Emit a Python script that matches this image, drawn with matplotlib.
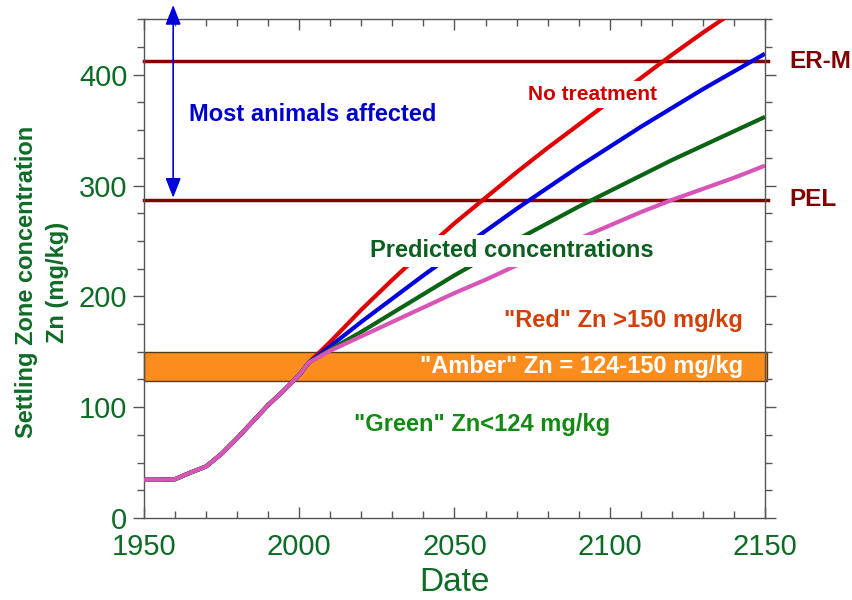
import matplotlib
matplotlib.use("Agg")
import matplotlib.pyplot as plt
from matplotlib.ticker import MultipleLocator

plt.rcParams['font.family'] = ['Liberation Sans', 'DejaVu Sans']

# shared history (all scenarios identical up to ~2003)
hist_years = [1950, 1955, 1960, 1965, 1970, 1975, 1980, 1985, 1990, 1995, 2000, 2003]
hist_zn = [34.5, 34.5, 35, 41, 46.5, 58, 72, 87, 102, 115, 129, 140]

# predicted concentrations
fut_years = [2003, 2010, 2020, 2030, 2040, 2050, 2060, 2070, 2080, 2090, 2100,
             2110, 2120, 2130, 2140, 2150]
no_treatment = [140, 159, 188, 215, 241, 266, 289, 312, 334, 355, 376, 397, 418, 438, 457, 476]
scen_blue = [140, 155, 177, 198, 219, 239, 259, 279, 298, 317, 335, 353, 370, 387, 403, 419]
scen_green = [140, 152, 168, 185, 202, 219, 235, 251, 266, 281, 295, 309, 323, 336, 349, 362]
scen_pink = [140, 151, 164, 177, 190, 203, 215, 228, 240, 252, 264, 276, 287, 297, 307, 318]

ERM = 412
PEL = 287
amber_lo, amber_hi = 124, 150

tick_green = '#0d6b26'

fig = plt.figure(figsize=(8.53, 6.0), dpi=100, facecolor='white')
ax = fig.add_axes([0.1688, 0.1367, 0.728, 0.831])

# amber band
ax.axhspan(amber_lo, amber_hi, xmin=0, xmax=1.004, facecolor='#fb8c1e',
           edgecolor='#5a3a10', lw=1.0, clip_on=False, zorder=1)

# guideline levels
ax.axhline(ERM, xmin=0, xmax=1.005, color='#800000', lw=2.5, clip_on=False, zorder=2)
ax.axhline(PEL, xmin=0, xmax=1.005, color='#800000', lw=2.5, clip_on=False, zorder=2)

# curves
for vals, col in [(no_treatment, '#e00000'), (scen_blue, '#0000e0'),
                  (scen_green, '#0a6414'), (scen_pink, '#d855b8')]:
    ax.plot(hist_years + fut_years, hist_zn + vals, color=col, lw=3,
            solid_capstyle='butt', zorder=3)

ax.set_xlim(1950, 2150)
ax.set_ylim(0, 450)
ax.xaxis.set_major_locator(MultipleLocator(50))
ax.xaxis.set_minor_locator(MultipleLocator(10))
ax.yaxis.set_major_locator(MultipleLocator(100))
ax.yaxis.set_minor_locator(MultipleLocator(25))

ax.tick_params(axis='x', which='both', direction='in', top=True, bottom=True)
ax.tick_params(axis='y', which='both', direction='out', left=True, right=True)
ax.tick_params(which='major', length=8, width=1, color='#555555')
ax.tick_params(which='minor', length=5, width=1, color='#555555')
ax.tick_params(axis='x', labelsize=21, labelcolor=tick_green, pad=11)
ax.tick_params(axis='y', labelsize=21, labelcolor=tick_green, pad=4)
for s in ax.spines.values():
    s.set_color('#555555')
    s.set_linewidth(1)

ax.set_xlabel('Date', fontsize=24, color=tick_green, labelpad=4)
fig.text(0.049, 0.53, 'Settling Zone concentration\nZn (mg/kg)', rotation=90,
         ha='center', va='center', multialignment='center', fontsize=17,
         fontweight='bold', color='#0e6b26', linespacing=1.45)

# arrow for "most animals affected"
ax.annotate('', xy=(1959.4, 463), xytext=(1959.4, 289),
            arrowprops=dict(arrowstyle='<|-|>,head_length=1.2,head_width=0.47',
                            color='#0000dd', lw=1.2, shrinkA=0, shrinkB=0),
            annotation_clip=False, zorder=4)

# text annotations
ax.text(2004.2, 364, 'Most animals affected', ha='center', va='center',
        fontsize=17, fontweight='bold', color='#0000cc')
ax.text(2094.5, 382, 'No treatment', ha='center', va='center', fontsize=15,
        fontweight='bold', color='#cc0000', zorder=5,
        bbox=dict(facecolor='white', edgecolor='none', pad=3))
ax.text(2068.5, 241, 'Predicted concentrations', ha='center', va='center',
        fontsize=17, fontweight='bold', color='#0b6020', zorder=5,
        bbox=dict(facecolor='white', edgecolor='none', pad=3))
ax.text(2104.5, 178, '"Red" Zn >150 mg/kg', ha='center', va='center',
        fontsize=17, fontweight='bold', color='#d2400a')
ax.text(2091, 137, '"Amber" Zn = 124-150 mg/kg', ha='center', va='center',
        fontsize=17, fontweight='bold', color='white', zorder=5)
ax.text(2059, 84, '"Green" Zn<124 mg/kg', ha='center', va='center',
        fontsize=17, fontweight='bold', color='#138a13')

ax.text(1.04, ERM, 'ER-M', transform=ax.get_yaxis_transform(), ha='left',
        va='center', fontsize=17.5, fontweight='bold', color='#800000')
ax.text(1.04, PEL, 'PEL', transform=ax.get_yaxis_transform(), ha='left',
        va='center', fontsize=17.5, fontweight='bold', color='#800000')

fig.savefig('out.png', dpi=100, facecolor='white')
